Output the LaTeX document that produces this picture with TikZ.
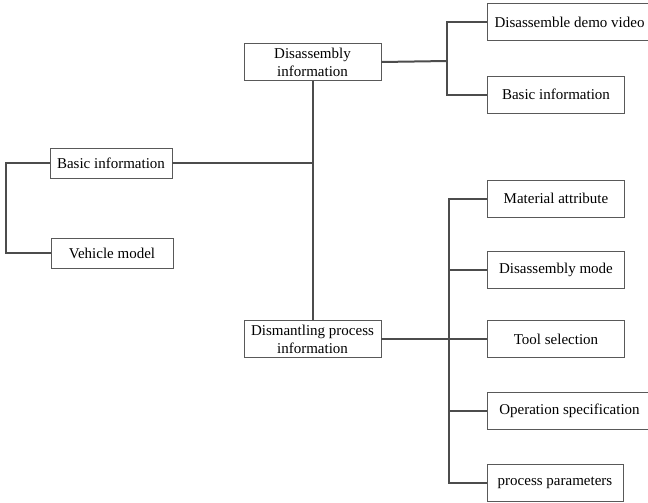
\documentclass[tikz,border=0pt]{standalone}
\usepackage{fontspec}
\setmainfont{Liberation Serif}
\usetikzlibrary{positioning}

\begin{document}
\begin{tikzpicture}[x=0.5pt, y=-0.5pt, font=\fontsize{7.5}{9}\selectfont,
        box/.style={draw=black!65, line width=0.45pt, inner sep=1pt, align=center,
                    minimum width=68.5pt, minimum height=18.5pt},
        leftbox/.style={box, minimum width=61pt, minimum height=15pt},
        widebox/.style={box, minimum width=82.5pt},
        link/.style={draw=black!70, line width=1pt}]
        \useasboundingbox (0,0) rectangle (648,503);
        % first level
        \node[leftbox] (basic) at (111,163) {Basic information};
        \node[leftbox] (vehicle) at (112,253) {Vehicle model};
        % second level
        \node[box] (disinfo) at (312.5,62) {Disassembly\\information};
        \node[box] (dismantle) at (312.5,339) {Dismantling process\\information};
        % third level
        \node[widebox] (demo) at (569.5,22) {Disassemble demo video};
        \node[box] (basic2) at (556,94.5) {Basic information};
        \node[box] (material) at (556,198.5) {Material attribute};
        \node[box] (mode) at (556,269.5) {Disassembly mode};
        \node[box] (tool) at (556,339) {Tool selection};
        \node[widebox] (oper) at (569.5,411) {Operation specification};
        \node[box, minimum width=68pt] (params) at (555,483) {process parameters};
        % joints
        \coordinate (lb) at (6,163);
        \coordinate (trunk) at (313,163);
        \coordinate (tr) at (447,61);
        \coordinate (br) at (449,339);
        \draw[link] (basic.west) -- (lb) |- (vehicle.west);
        \draw[link] (basic.east) -- (trunk);
        \draw[link] (disinfo.south) -- (dismantle.north);
        \draw[link] (disinfo.east) -- (tr);
        \draw[link] (demo.west) -| (tr) |- (basic2.west);
        \draw[link] (dismantle.east) -- (tool.west);
        \draw[link] (material.west) -| (br) |- (params.west);
        \draw[link] (mode.west) -- (mode.west -| br);
        \draw[link] (oper.west) -- (oper.west -| br);
      \end{tikzpicture}
\end{document}
